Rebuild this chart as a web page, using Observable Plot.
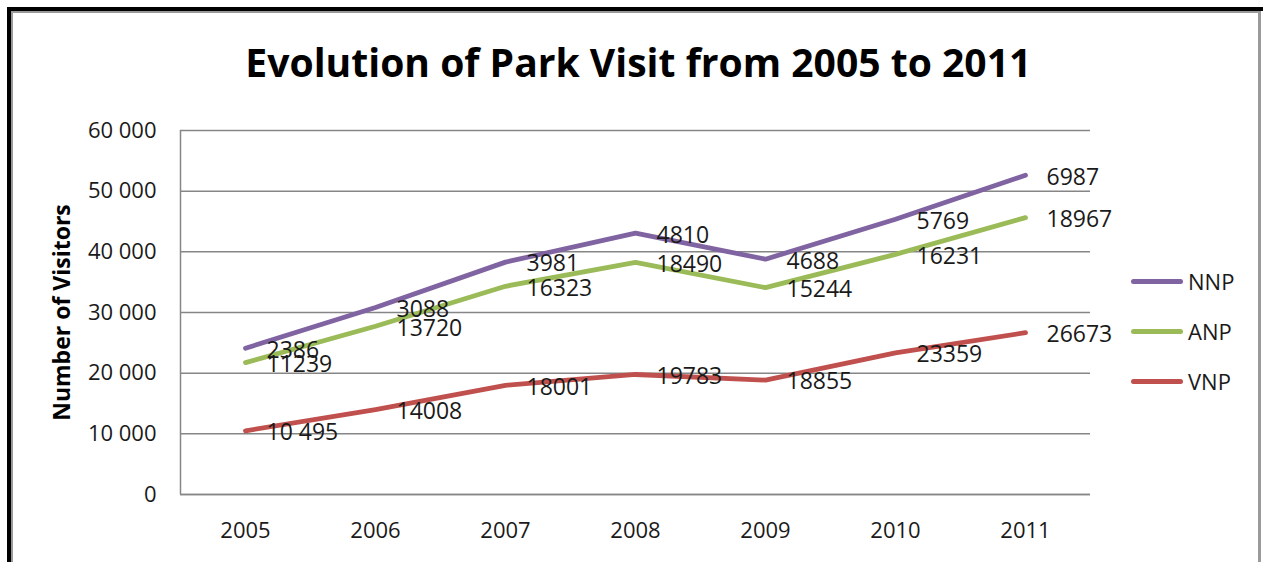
<!DOCTYPE html>
<html>
<head>
<meta charset="utf-8">
<script src="https://cdn.jsdelivr.net/npm/d3@7"></script>
<script src="https://cdn.jsdelivr.net/npm/@observablehq/plot@0.6"></script>
<style>
  html, body { margin: 0; padding: 0; background: #fff; }
  #wrap { position: relative; width: 1263px; height: 562px; overflow: hidden; font-family: "Open Sans", sans-serif; }
  #outer { position: absolute; left: 7px; top: 7px; width: 1256px; height: 600px; border-top: 4px solid #000; border-left: 4px solid #000; box-sizing: border-box; }
  #inner { position: absolute; left: 0; top: 0; right: 2px; bottom: 0; border-top: 2px solid #9a9a9a; border-left: 2px solid #9a9a9a; border-right: 3px solid #9a9a9a; }
  #title { position: absolute; left: 7px; top: 42px; width: 1263px; text-align: center; font-weight: bold; font-size: 40px; line-height: 40px; color: #000; white-space: nowrap; }
  #title span { display: inline-block; transform-origin: center; }
  #chart { position: absolute; left: 0; top: 100px; }
  .leg { position: absolute; left: 1131px; height: 30px; font-size: 22px; color: #1a1a1a; }
  .leg i { position: absolute; left: 0; width: 52px; height: 5px; border-radius: 3px; }
  .leg b { position: absolute; left: 57px; font-weight: normal; line-height: 30px; top: 0; }
</style>
</head>
<body>
<div id="wrap">
  <div id="outer"><div id="inner"></div></div>
  <div id="title"><span>Evolution of Park Visit from 2005 to 2011</span></div>
  <div id="chart"></div>
  <div id="legend"></div>
</div>
<script>
const years = [2005, 2006, 2007, 2008, 2009, 2010, 2011];
const seriesNames = ["VNP", "ANP", "NNP"];
const vnp = [10495, 14008, 18001, 19783, 18855, 23359, 26673];
const anp = [11239, 13720, 16323, 18490, 15244, 16231, 18967];
const nnp = [2386, 3088, 3981, 4810, 4688, 5769, 6987];
const vnpLabels = ["10 495", "14008", "18001", "19783", "18855", "23359", "26673"];
const anpLabels = ["11239", "13720", "16323", "18490", "15244", "16231", "18967"];
const nnpLabels = ["2386", "3088", "3981", "4810", "4688", "5769", "6987"];
const legendOrder = ["NNP", "ANP", "VNP"];
const colors = { NNP: "#8064A2", ANP: "#9BBB59", VNP: "#C0504D" };
const yTicks = [0, 10000, 20000, 30000, 40000, 50000, 60000];
const yLabel = "Number of Visitors";

const seriesValues = { VNP: vnp, ANP: anp, NNP: nnp };
const seriesLabels = { VNP: vnpLabels, ANP: anpLabels, NNP: nnpLabels };

// rows ordered by year, then series bottom-to-top (VNP, ANP, NNP) for stacking
const rows = [];
years.forEach((yr, i) => {
  seriesNames.forEach(s => rows.push({ year: yr, series: s, value: seriesValues[s][i], label: seriesLabels[s][i] }));
});

const fmt = d => d3.format(",")(d).replace(/,/g, " ");

const chart = Plot.plot({
  width: 1263,
  height: 462,
  marginLeft: 180,
  marginRight: 173,
  marginTop: 30,
  marginBottom: 68,
  style: { fontFamily: "Open Sans, sans-serif", fontSize: "22px", color: "#1a1a1a", background: "transparent" },
  x: { type: "linear", domain: [years[0] - 0.5, years[years.length - 1] + 0.5] },
  y: { domain: [0, 60000] },
  color: { domain: legendOrder, range: legendOrder.map(s => colors[s]) },
  marks: [
    Plot.gridY(yTicks, { stroke: "#868686", strokeOpacity: 1, strokeWidth: 1.5 }),
    Plot.ruleX([years[0] - 0.5], { stroke: "#868686", strokeWidth: 1.5 }),
    Plot.ruleY([0], { stroke: "#868686", strokeWidth: 1.5 }),
    Plot.axisY({ ticks: yTicks, tickFormat: fmt, tickSize: 0, tickPadding: 24, label: null, fontSize: 22 }),
    Plot.axisX({ ticks: years, tickFormat: d => String(d), tickSize: 0, tickPadding: 28, label: null, fontSize: 22 }),
    Plot.text([yLabel], { text: d => d, frameAnchor: "left", textAnchor: "middle", rotate: -90, dx: -118, fontWeight: "bold", fontSize: 23, fill: "#000" }),
    Plot.lineY(rows, Plot.stackY2({ x: "year", y: "value", z: "series", stroke: "series", strokeWidth: 4.8, strokeLinejoin: "round", strokeLinecap: "round" })),
    Plot.text(rows, Plot.stackY2({ x: "year", y: "value", z: "series", text: "label", textAnchor: "start", dx: 21, dy: 2, fontSize: 23, fill: "#1a1a1a" }))
  ]
});
document.getElementById("chart").appendChild(chart);

// legend
const legend = document.getElementById("legend");
const legendTops = { NNP: 266, ANP: 316, VNP: 366 };
legendOrder.forEach(s => {
  const d = document.createElement("div");
  d.className = "leg";
  d.style.top = legendTops[s] + "px";
  d.innerHTML = `<i style="background:${colors[s]};top:13px"></i><b>${s}</b>`;
  legend.appendChild(d);
});

// fit title width to reference (condensed look)
const span = document.querySelector("#title span");
const w = span.getBoundingClientRect().width;
span.style.transform = `scaleX(${786 / w})`;
</script>
</body>
</html>
